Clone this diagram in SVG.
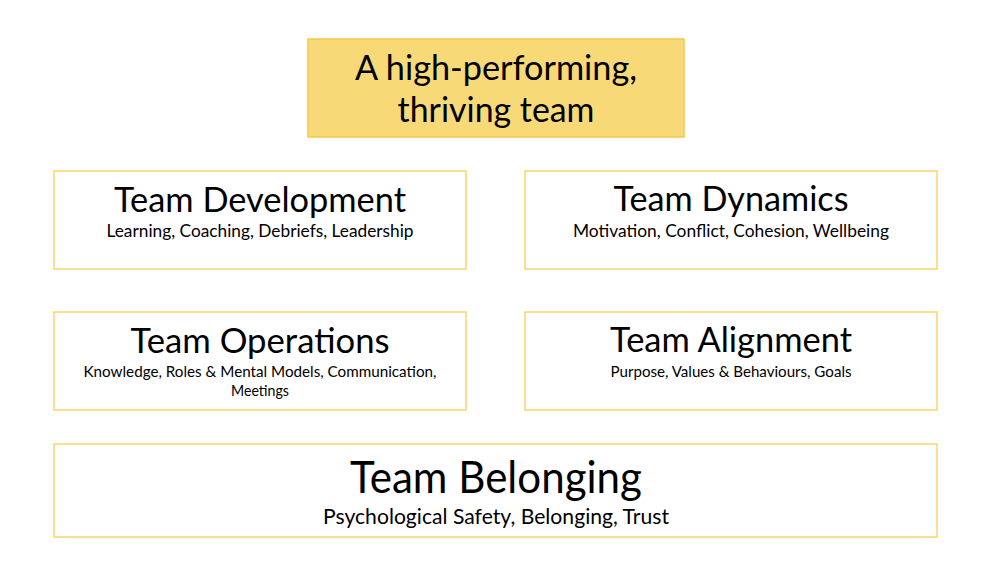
<svg xmlns="http://www.w3.org/2000/svg" width="1000" height="581" viewBox="0 0 1000 581">
<style>
.box{fill:#ffffff;stroke:#FAD46A;stroke-width:1.5}
.top{fill:#F8D978;stroke:#F4C84A;stroke-width:1.5}
text{font-family:"Lato","Open Sans","Liberation Sans",sans-serif;fill:#000;text-anchor:middle}
.h{font-size:34px}
.s{font-size:17px}
.hb{font-size:44px}
.sb{font-size:22px}
</style>
<rect width="1000" height="581" fill="#fff"/>
<g id="top">
<rect class="top" x="308" y="39" width="376" height="98"/>
<text class="h" x="496" y="80" textLength="282" lengthAdjust="spacingAndGlyphs">A high-performing,</text>
<text class="h" x="496" y="122" textLength="197" lengthAdjust="spacingAndGlyphs">thriving team</text>
</g>
<g id="development">
<rect class="box" x="54" y="171" width="412" height="98"/>
<text class="h" x="260" y="212" textLength="292" lengthAdjust="spacingAndGlyphs">Team Development</text>
<text class="s" x="260" y="237" textLength="307" lengthAdjust="spacingAndGlyphs">Learning, Coaching, Debriefs, Leadership</text>
</g>
<g id="dynamics">
<rect class="box" x="525" y="171" width="412" height="98"/>
<text class="h" x="731" y="211" textLength="235" lengthAdjust="spacingAndGlyphs">Team Dynamics</text>
<text class="s" x="731" y="237" textLength="316" lengthAdjust="spacingAndGlyphs">Motivation, Conflict, Cohesion, Wellbeing</text>
</g>
<g id="operations">
<rect class="box" x="54" y="312" width="412" height="98"/>
<text class="h" x="260" y="353" textLength="259" lengthAdjust="spacingAndGlyphs">Team Operations</text>
<text class="s" x="260" y="377" font-size="15" style="font-size:15px" textLength="353" lengthAdjust="spacingAndGlyphs">Knowledge, Roles &amp; Mental Models, Communication,</text>
<text class="s" x="260" y="396" style="font-size:15px" textLength="58" lengthAdjust="spacingAndGlyphs">Meetings</text>
</g>
<g id="alignment">
<rect class="box" x="525" y="312" width="412" height="98"/>
<text class="h" x="731" y="352" textLength="242" lengthAdjust="spacingAndGlyphs">Team Alignment</text>
<text class="s" x="731" y="377" style="font-size:15px" textLength="241" lengthAdjust="spacingAndGlyphs">Purpose, Values &amp; Behaviours, Goals</text>
</g>
<g id="belonging">
<rect class="box" x="54" y="444" width="883" height="93"/>
<text class="hb" x="496" y="493" textLength="292" lengthAdjust="spacingAndGlyphs">Team Belonging</text>
<text class="sb" x="496" y="524" textLength="346" lengthAdjust="spacingAndGlyphs">Psychological Safety, Belonging, Trust</text>
</g>
<g id="connectors"></g>
</svg>
